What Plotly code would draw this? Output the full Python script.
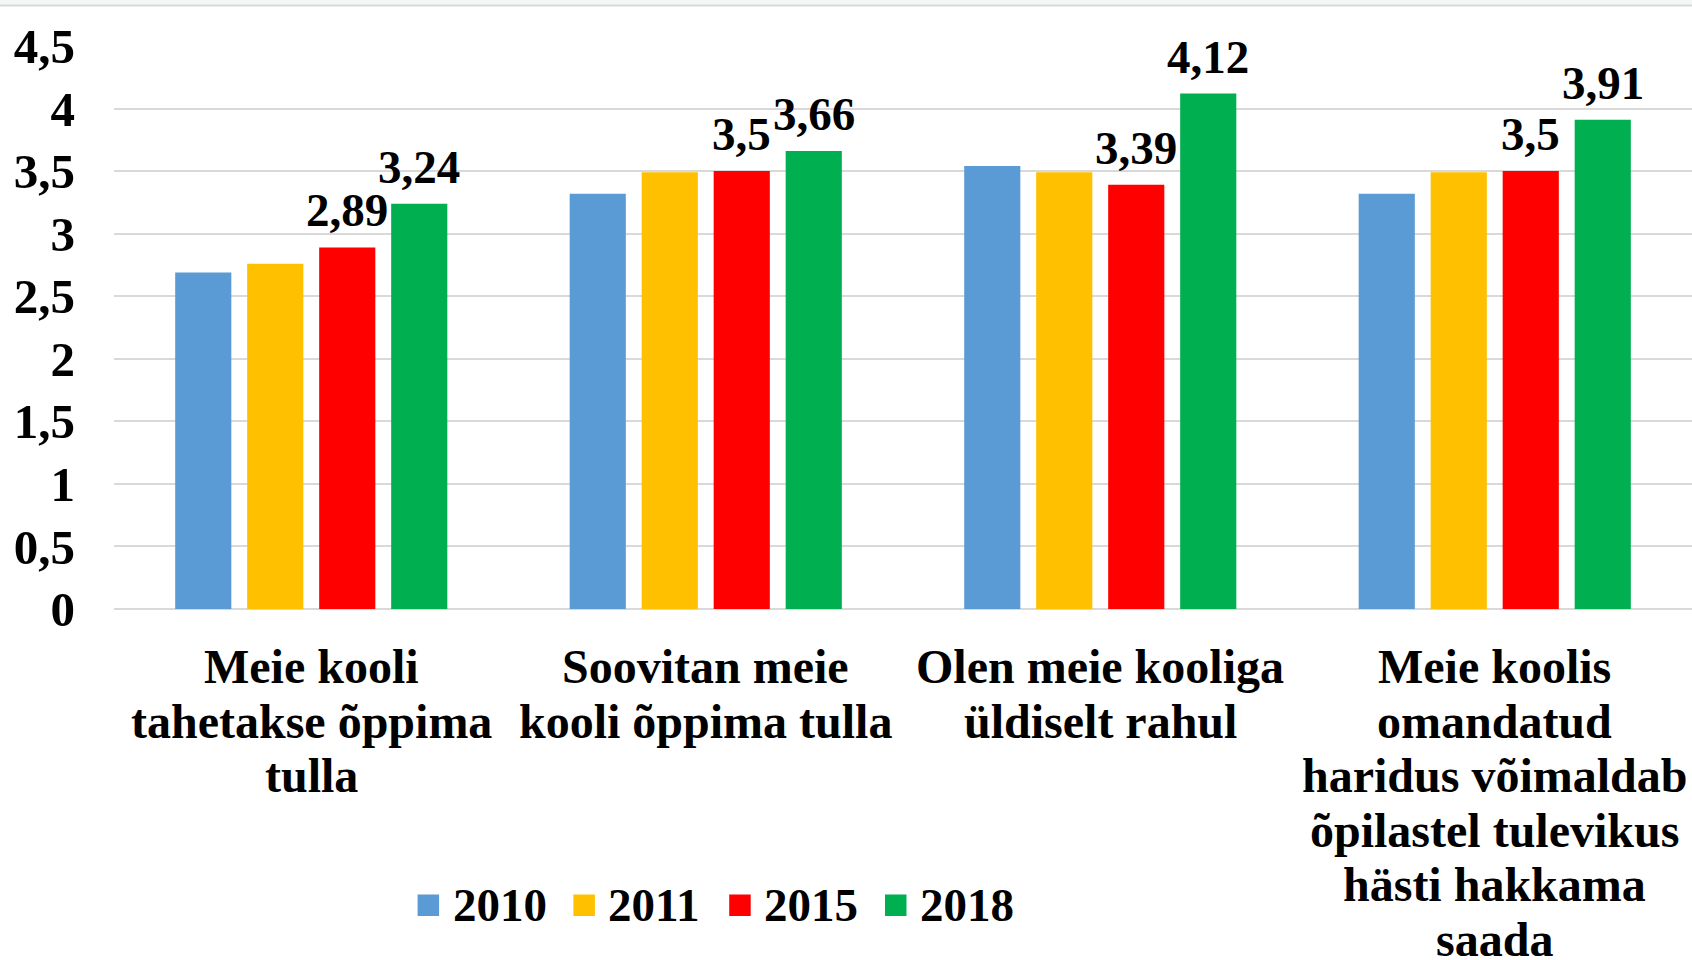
import plotly.graph_objects as go

# ---- data ----
categories = [
    "Meie kooli<br>tahetakse õppima<br>tulla",
    "Soovitan meie<br>kooli õppima tulla",
    "Olen meie kooliga<br>üldiselt rahul",
    "Meie koolis<br>omandatud<br>haridus võimaldab<br>õpilastel tulevikus<br>hästi hakkama<br>saada",
]
series_names = ["2010", "2011", "2015", "2018"]
values_2010 = [2.69, 3.32, 3.54, 3.32]
values_2011 = [2.76, 3.49, 3.49, 3.49]
values_2015 = [2.89, 3.50, 3.39, 3.50]
values_2018 = [3.24, 3.66, 4.12, 3.91]
show_labels = [False, False, True, True]
y_tick_vals = [0, 0.5, 1, 1.5, 2, 2.5, 3, 3.5, 4, 4.5]

# ---- style ----
colors = ["#5B9BD5", "#FFC000", "#FF0000", "#00B050"]
FONT = "Times New Roman, Liberation Serif, serif"
FS = 47
FS_CAT = 48
FS_TICK = 49
W, H = 1692, 960
ML, MR, MT, MB = 114, 0, 46, 350.5
PW, PH = W - ML - MR, H - MT - MB
BARGAP, BARGROUPGAP = 0.27, 0.22


def px2x(px):
    return (px - ML) / PW


def py2y(py):
    return (H - MB - py) / PH


def fmt(v):
    s = f"{v:.2f}".rstrip("0").rstrip(".")
    return s.replace(".", ",")


all_values = [values_2010, values_2011, values_2015, values_2018]
idx = list(range(len(categories)))
n_series = len(series_names)
slot = (1 - BARGAP) / n_series

fig = go.Figure()
annotations = []
for k, (name, vals, col, lab) in enumerate(zip(series_names, all_values, colors, show_labels)):
    fig.add_trace(go.Bar(
        x=idx, y=vals, name=name,
        marker=dict(color=col, line=dict(width=0)),
        showlegend=False,
    ))
    if lab:
        off = (k - (n_series - 1) / 2) * slot
        for i, v in zip(idx, vals):
            annotations.append(dict(
                x=i + off, xref="x", y=v, yref="y", xanchor="center",
                yanchor="bottom", yshift=9, text=fmt(v), showarrow=False,
                font=dict(family=FONT, size=FS, color="black", weight="bold"),
            ))

# category labels, one annotation per line for tight line spacing
LINE0 = 57.5
LINE_SP = 54.5
for i, cat in enumerate(categories):
    for j, line in enumerate(cat.split("<br>")):
        annotations.append(dict(
            x=i, xref="x", y=0, yref="paper", yanchor="middle", xanchor="center",
            yshift=-(LINE0 + j * LINE_SP), text=line, showarrow=False,
            font=dict(family=FONT, size=FS_CAT, color="black", weight="bold"),
        ))

shapes = []
# manual legend
LEG_X0 = 417.6
LEG_SP = 155.8
LEG_SQ = 21.5
LEG_CY = 906
for k, (name, col) in enumerate(zip(series_names, colors)):
    x0 = LEG_X0 + k * LEG_SP
    shapes.append(dict(type="rect", xref="paper", yref="paper",
                       x0=px2x(x0), x1=px2x(x0 + LEG_SQ),
                       y0=py2y(LEG_CY + LEG_SQ / 2), y1=py2y(LEG_CY - LEG_SQ / 2),
                       fillcolor=col, line=dict(width=0)))
    annotations.append(dict(
        x=px2x(x0 + 33), xref="paper", y=py2y(LEG_CY), yref="paper",
        xanchor="left", yanchor="middle", text=name, showarrow=False,
        font=dict(family=FONT, size=FS, color="black", weight="bold"),
    ))

# faint slide edge at very top
shapes.append(dict(type="rect", xref="paper", yref="paper",
                   x0=px2x(0), x1=px2x(W), y0=py2y(5), y1=py2y(0),
                   fillcolor="#f3f7f5", line=dict(width=0), layer="below"))
shapes.append(dict(type="line", xref="paper", yref="paper",
                   x0=px2x(0), x1=px2x(W), y0=py2y(5.5), y1=py2y(5.5),
                   line=dict(color="#d9d9d9", width=2)))

fig.update_layout(
    width=W, height=H,
    margin=dict(l=ML, r=MR, t=MT, b=MB, pad=0, autoexpand=False),
    paper_bgcolor="white", plot_bgcolor="white",
    barmode="group", bargap=BARGAP, bargroupgap=BARGROUPGAP,
    separators=", ",
    showlegend=False,
    font=dict(family=FONT, size=FS, color="black", weight="bold"),
    xaxis=dict(range=[-0.5, len(categories) - 0.5], showticklabels=False,
               showgrid=False, zeroline=False, showline=False, ticks=""),
    yaxis=dict(range=[0, 4.5], tickvals=y_tick_vals, showgrid=True,
               gridcolor="#d9d9d9", gridwidth=1.5, zeroline=True,
               zerolinecolor="#d9d9d9", zerolinewidth=1.5, showline=False,
               ticks="", ticklabelstandoff=38,
               tickfont=dict(family=FONT, size=FS_TICK, color="black", weight="bold")),
    annotations=annotations,
    shapes=shapes,
)

fig.write_html("out.html", config={"displayModeBar": False},
               post_script="document.body.style.margin='0';document.body.style.overflow='hidden';")
